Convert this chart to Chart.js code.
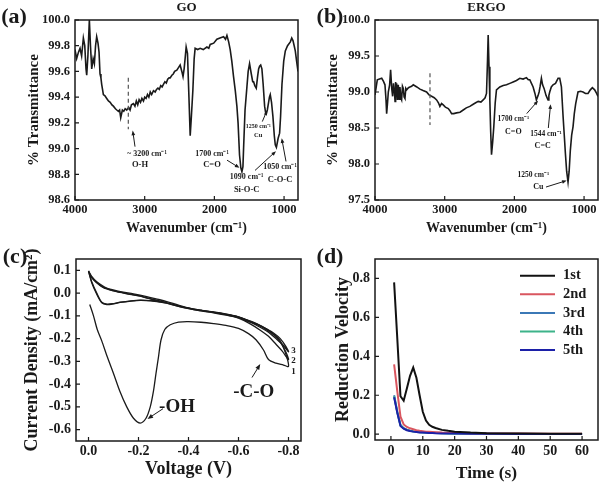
<!DOCTYPE html>
<html>
<head>
<meta charset="utf-8">
<script src="https://cdn.jsdelivr.net/npm/chart.js@4.4.0/dist/chart.umd.min.js"></script>
<style>
  html, body { margin: 0; padding: 0; background: #fff; }
  #wrap { position: relative; width: 602px; height: 484px; overflow: hidden; }
  #wrap canvas { position: absolute; }
</style>
</head>
<body>
<div id="wrap">
  <canvas id="chartA" width="301" height="242" style="left:0;top:0"></canvas>
  <canvas id="chartB" width="301" height="242" style="left:301px;top:0"></canvas>
  <canvas id="chartC" width="304" height="242" style="left:0;top:242px"></canvas>
  <canvas id="chartD" width="301" height="242" style="left:301px;top:242px"></canvas>
</div>
<script>
// (a) GO spectrum
const goWave = [
  4000, 3976, 3950, 3928, 3905, 3880, 3860, 3842, 3832, 3815,
  3794, 3778, 3760, 3740, 3722, 3705, 3689, 3670, 3655, 3641,
  3628, 3617, 3605, 3593, 3570, 3545, 3520, 3495, 3470, 3449,
  3420, 3400, 3377, 3360, 3344, 3320, 3300, 3280, 3258, 3230,
  3210, 3190, 3162, 3140, 3120, 3100, 3080, 3060, 3040, 3018,
  3000, 2980, 2960, 2940, 2920, 2900, 2874, 2850, 2830, 2810,
  2790, 2770, 2750, 2731, 2710, 2690, 2670, 2650, 2635, 2610,
  2590, 2570, 2539, 2515, 2491, 2467, 2450, 2434, 2420, 2405,
  2386, 2365, 2347, 2330, 2309, 2290, 2276, 2240, 2204, 2160,
  2108, 2080, 2060, 2010, 1964, 1920, 1868, 1840, 1820, 1795,
  1773, 1750, 1725, 1700, 1677, 1660, 1639, 1620, 1605, 1590,
  1581, 1560, 1533, 1515, 1495, 1470, 1450, 1437, 1420, 1399,
  1380, 1365, 1351, 1335, 1318, 1300, 1279, 1265, 1255, 1240,
  1222, 1210, 1198, 1180, 1160, 1140, 1126, 1110, 1102, 1085,
  1064, 1050, 1030, 1005, 982, 950, 910, 890, 872, 855,
  839, 820, 800
];
const goTrans = [
  99.77, 99.70, 99.75, 99.78, 99.72, 99.86, 99.80, 99.62, 99.57, 99.72,
  100.0, 99.80, 99.62, 99.70, 99.66, 99.80, 99.87, 99.82, 99.75, 99.58,
  99.55, 99.50, 99.46, 99.42, 99.41, 99.39, 99.37, 99.36, 99.34, 99.33,
  99.31, 99.30, 99.29, 99.30, 99.24, 99.30, 99.29, 99.31, 99.30, 99.32,
  99.30, 99.34, 99.35, 99.33, 99.37, 99.34, 99.38, 99.36, 99.39, 99.37,
  99.40, 99.39, 99.42, 99.40, 99.44, 99.42, 99.45, 99.44, 99.46, 99.47,
  99.46, 99.49, 99.48, 99.50, 99.52, 99.51, 99.54, 99.55, 99.55, 99.57,
  99.58, 99.60, 99.61, 99.63, 99.65, 99.60, 99.56, 99.62, 99.70, 99.79,
  99.74, 99.40, 99.10, 99.25, 99.45, 99.70, 99.78, 99.77, 99.78, 99.77,
  99.79, 99.78, 99.81, 99.82, 99.85, 99.86, 99.87, 99.85, 99.88, 99.83,
  99.77, 99.68, 99.56, 99.45, 99.33, 99.20, 98.95, 98.85, 98.82, 98.86,
  99.00, 99.30, 99.48, 99.60, 99.66, 99.58, 99.52, 99.52, 99.49, 99.47,
  99.56, 99.62, 99.64, 99.65, 99.62, 99.50, 99.33, 99.28, 99.27, 99.30,
  99.36, 99.40, 99.42, 99.36, 99.25, 99.10, 99.03, 99.01, 99.01, 99.08,
  99.12, 99.25, 99.50, 99.68, 99.76, 99.80, 99.83, 99.86, 99.84, 99.80,
  99.76, 99.68, 99.60
];

// (b) ERGO spectrum
const ergoWave = [
  4000, 3967, 3935, 3904, 3880, 3857, 3842, 3833, 3820, 3809,
  3790, 3776, 3760, 3747, 3735, 3723, 3712, 3704, 3697, 3690,
  3678, 3666, 3654, 3642, 3630, 3618, 3606, 3594, 3582, 3570,
  3558, 3546, 3520, 3499, 3475, 3451, 3400, 3355, 3310, 3260,
  3225, 3188, 3150, 3116, 3090, 3069, 3045, 3021, 2990, 2949,
  2925, 2901, 2870, 2830, 2780, 2734, 2690, 2639, 2591, 2555,
  2519, 2480, 2448, 2420, 2400, 2385, 2376, 2364, 2352, 2340,
  2328, 2312, 2295, 2275, 2257, 2209, 2160, 2113, 2065, 2018,
  1970, 1922, 1875, 1827, 1800, 1779, 1755, 1731, 1705, 1684,
  1660, 1645, 1630, 1612, 1595, 1574, 1545, 1517, 1505, 1493,
  1470, 1445, 1410, 1373, 1349, 1325, 1301, 1284, 1268, 1250,
  1230, 1214, 1197, 1178, 1158, 1140, 1120, 1087, 1050, 1015,
  980, 943, 910, 881, 848, 820, 800
];
const ergoTrans = [
  98.96, 99.17, 99.18, 99.19, 99.15, 99.10, 98.89, 98.70, 98.85, 99.00,
  99.10, 99.31, 99.05, 98.94, 99.12, 99.02, 98.87, 99.14, 98.95, 99.12,
  98.89, 99.10, 98.90, 99.07, 98.92, 98.89, 99.08, 99.05, 98.93, 98.91,
  99.05, 99.03, 99.06, 99.07, 99.08, 99.10, 99.07, 99.04, 99.02, 99.00,
  98.96, 98.94, 98.92, 98.89, 98.85, 98.80, 98.84, 98.82, 98.79, 98.77,
  98.74, 98.70, 98.70, 98.71, 98.72, 98.75, 98.78, 98.80, 98.83, 98.85,
  98.87, 98.86, 98.89, 98.92, 98.98, 99.45, 99.79, 99.35, 98.89, 98.45,
  98.13, 98.30, 98.52, 98.85, 99.03, 99.07, 99.09, 99.10, 99.12, 99.14,
  99.16, 99.19, 99.18, 99.20, 99.17, 99.17, 99.12, 99.07, 98.98, 98.89,
  98.95, 99.00, 99.08, 99.19, 99.10, 99.05, 98.95, 98.89, 98.95, 99.00,
  99.07, 99.10, 99.12, 99.19, 99.19, 99.07, 98.66, 98.40, 98.15, 97.90,
  97.75, 97.90, 98.19, 98.40, 98.52, 98.70, 98.84, 99.00, 99.01, 99.00,
  98.98, 98.98, 99.03, 99.06, 99.03, 98.98, 98.94
];
const irTicksX = [4000, 3000, 2000, 1000];
const goTicksY = [98.6, 98.8, 99.0, 99.2, 99.4, 99.6, 99.8, 100.0];
const ergoTicksY = [97.5, 98.0, 98.5, 99.0, 99.5, 100.0];

// (c) cyclic voltammetry, cycle 1 has the -OH peak
const cv1Volt = [
  -0.005, -0.02, -0.035, -0.053, -0.075, -0.1, -0.125, -0.153, -0.18, -0.207,
  -0.23, -0.247, -0.26, -0.27, -0.28, -0.29, -0.305, -0.327, -0.36, -0.4,
  -0.45, -0.5, -0.55, -0.6, -0.64, -0.67, -0.7, -0.72, -0.75, -0.78, -0.8,
  -0.79, -0.767, -0.74, -0.713, -0.68, -0.647, -0.6, -0.55, -0.5, -0.45,
  -0.407, -0.36, -0.313, -0.27, -0.233, -0.18, -0.127, -0.073, -0.033, -0.012, 0
];
const cv1Curr = [
  -0.05, -0.1, -0.16, -0.21, -0.28, -0.353, -0.43, -0.5, -0.55, -0.571,
  -0.55, -0.5, -0.43, -0.353, -0.28, -0.206, -0.16, -0.139, -0.127, -0.125,
  -0.128, -0.134, -0.142, -0.155, -0.178, -0.205, -0.25, -0.292, -0.308, -0.316, -0.322,
  -0.27, -0.21, -0.18, -0.158, -0.138, -0.123, -0.104, -0.092, -0.083, -0.075,
  -0.067, -0.053, -0.037, -0.025, -0.015, -0.003, 0.007, 0.022, 0.05, 0.075, 0.097
];
const cvSweepVolt = [
  0, -0.013, -0.033, -0.053, -0.073, -0.1, -0.127, -0.17, -0.207, -0.25,
  -0.287, -0.33, -0.367, -0.407, -0.45, -0.5, -0.55, -0.6, -0.647, -0.69,
  -0.72, -0.75, -0.775, -0.8,
  -0.79, -0.767, -0.74, -0.713, -0.68, -0.647, -0.6, -0.55, -0.5, -0.45,
  -0.4, -0.35, -0.3, -0.25, -0.2, -0.15, -0.1, -0.06, -0.03, -0.01, 0
];
const cv2Curr = [
  0.097, 0.05, 0.0, -0.04, -0.048, -0.046, -0.04, -0.034, -0.031, -0.033,
  -0.038, -0.047, -0.058, -0.067, -0.076, -0.085, -0.095, -0.11, -0.135, -0.165,
  -0.19, -0.225, -0.255, -0.292,
  -0.26, -0.215, -0.183, -0.162, -0.141, -0.126, -0.106, -0.094, -0.085, -0.077,
  -0.068, -0.055, -0.04, -0.026, -0.012, -0.002, 0.01, 0.024, 0.048, 0.072, 0.097
];
const cv3Curr = [
  0.097, 0.045, -0.005, -0.042, -0.05, -0.047, -0.041, -0.035, -0.032, -0.034,
  -0.04, -0.049, -0.06, -0.069, -0.078, -0.087, -0.097, -0.108, -0.128, -0.152,
  -0.172, -0.2, -0.225, -0.258,
  -0.235, -0.2, -0.175, -0.158, -0.139, -0.124, -0.105, -0.093, -0.084, -0.076,
  -0.067, -0.054, -0.039, -0.025, -0.011, -0.001, 0.011, 0.025, 0.05, 0.074, 0.097
];
const cvTicksX = [0, -0.2, -0.4, -0.6, -0.8];
const cvTicksY = [0.1, 0, -0.1, -0.2, -0.3, -0.4, -0.5, -0.6];

// (d) reduction velocity per run
const timeS = [1, 2, 3, 4, 5, 6, 7, 8, 9, 10, 11, 12, 13, 14, 16, 18, 20, 25, 30, 40, 50, 60];
const vel1st = [0.78, 0.49, 0.195, 0.172, 0.235, 0.3, 0.342, 0.29, 0.2, 0.115, 0.07, 0.048, 0.038, 0.032, 0.022, 0.017, 0.013, 0.008, 0.005, 0.003, 0.002, 0.002];
const vel2nd = [0.358, 0.22, 0.09, 0.05, 0.037, 0.03, 0.025, 0.02, 0.017, 0.015, 0.013, 0.012, 0.011, 0.01, 0.008, 0.007, 0.006, 0.005, 0.004, 0.003, 0.002, 0.002];
const vel3rd = [0.2, 0.115, 0.047, 0.031, 0.023, 0.018, 0.015, 0.013, 0.011, 0.01, 0.009, 0.008, 0.007, 0.007, 0.006, 0.005, 0.004, 0.003, 0.002, 0.002, 0.001, 0.001];
const vel4th = [0.195, 0.112, 0.045, 0.03, 0.022, 0.017, 0.014, 0.012, 0.01, 0.009, 0.008, 0.007, 0.006, 0.006, 0.005, 0.004, 0.004, 0.003, 0.002, 0.001, 0.001, 0.001];
const vel5th = [0.19, 0.11, 0.042, 0.028, 0.02, 0.016, 0.013, 0.011, 0.009, 0.008, 0.007, 0.006, 0.006, 0.005, 0.004, 0.004, 0.003, 0.002, 0.002, 0.001, 0.001, 0.001];
const runLabels = ['1st', '2nd', '3rd', '4th', '5th'];
const runColors = ['#111111', '#d9565f', '#3b78b6', '#3db38a', '#1c20a8'];
const runOrder = [0, 2, 4, 3, 1];
const velTicksX = [0, 10, 20, 30, 40, 50, 60];
const velTicksY = [0, 0.2, 0.4, 0.6, 0.8];

const FONT = '"Liberation Serif", "Times New Roman", serif';
const INK = '#1a1a1a';

function pts(xs, ys) {
    return xs.map((v, i) => ({x: v, y: ys[i]}));
}

function arrow(ctx, x1, y1, x2, y2, head) {
    const ang = Math.atan2(y2 - y1, x2 - x1);
    ctx.beginPath();
    ctx.moveTo(x1, y1);
    ctx.lineTo(x2 - Math.cos(ang) * head * 0.7, y2 - Math.sin(ang) * head * 0.7);
    ctx.stroke();
    ctx.beginPath();
    ctx.moveTo(x2, y2);
    ctx.lineTo(x2 - head * Math.cos(ang - 0.38), y2 - head * Math.sin(ang - 0.38));
    ctx.lineTo(x2 - head * Math.cos(ang + 0.38), y2 - head * Math.sin(ang + 0.38));
    ctx.closePath();
    ctx.fill();
}

// frame, inward ticks, notes, arrows, panel letters, legend
const decorPlugin = {
    id: 'decor',
    afterDraw(chart, args, o) {
        const {ctx, chartArea: a} = chart;
        const sx = chart.scales.x, sy = chart.scales.y;
        const px = v => sx.getPixelForValue(v);
        const py = v => sy.getPixelForValue(v);
        ctx.save();
        ctx.strokeStyle = INK;
        ctx.fillStyle = INK;

        ctx.lineWidth = 1.2;
        ctx.beginPath();
        sx.ticks.forEach(t => { const x = px(t.value); ctx.moveTo(x, a.bottom); ctx.lineTo(x, a.bottom - 4); });
        sy.ticks.forEach(t => { const y = py(t.value); ctx.moveTo(a.left, y); ctx.lineTo(a.left + 4, y); });
        ctx.stroke();

        ctx.lineWidth = 1.5;
        ctx.strokeRect(a.left, a.top, a.right - a.left, a.bottom - a.top);

        (o.dashes || []).forEach(d => {
            ctx.save();
            ctx.strokeStyle = '#555';
            ctx.lineWidth = 1.2;
            ctx.setLineDash([4, 3]);
            ctx.beginPath();
            ctx.moveTo(px(d.x), py(d.y1));
            ctx.lineTo(px(d.x), py(d.y2));
            ctx.stroke();
            ctx.restore();
        });

        ctx.lineWidth = 1;
        (o.arrows || []).forEach(r => arrow(ctx, px(r.x1), py(r.y1), px(r.x2), py(r.y2), r.head || 5));

        ctx.textAlign = 'center';
        ctx.textBaseline = 'middle';
        (o.notes || []).forEach(n => {
            ctx.font = 'bold ' + n.size + 'px ' + FONT;
            ctx.fillText(n.text, px(n.x), py(n.y));
        });

        if (o.letter) {
            ctx.font = 'bold ' + o.letter.size + 'px ' + FONT;
            ctx.fillText(o.letter.text, o.letter.x, o.letter.y);
        }
        if (o.heading) {
            ctx.font = 'bold ' + o.heading.size + 'px ' + FONT;
            ctx.fillText(o.heading.text, (a.left + a.right) / 2, o.heading.y);
        }

        if (o.legend) {
            const L = o.legend;
            ctx.textAlign = 'left';
            ctx.font = 'bold ' + L.size + 'px ' + FONT;
            chart.data.datasets.forEach((ds, i) => {
                const y = L.y + i * L.dy;
                ctx.strokeStyle = ds.borderColor;
                ctx.lineWidth = 2;
                ctx.beginPath();
                ctx.moveTo(L.x1, y);
                ctx.lineTo(L.x2, y);
                ctx.stroke();
                ctx.fillStyle = INK;
                ctx.fillText(ds.label, L.textX, y);
            });
        }
        ctx.restore();
    }
};

function makeChart(id, datasets, ax, decor) {
    return new Chart(document.getElementById(id), {
        type: 'scatter',
        data: {datasets: datasets},
        options: {
            responsive: false,
            animation: false,
            layout: {padding: {left: 0, top: ax.top, right: ax.right, bottom: 0}},
            elements: {point: {radius: 0}},
            plugins: {legend: {display: false}, tooltip: {enabled: false}, decor: decor},
            scales: {
                x: {
                    type: 'linear',
                    reverse: ax.xReverse,
                    min: ax.xMin,
                    max: ax.xMax,
                    afterBuildTicks: s => { s.ticks = ax.xTicks.map(v => ({value: v})); },
                    afterFit: s => { s.height = ax.xHeight; },
                    grid: {display: false, drawTicks: false},
                    border: {display: false},
                    ticks: {
                        padding: ax.xPad, maxRotation: 0, autoSkip: false, color: INK,
                        font: {family: FONT, size: ax.tickSize, weight: 'bold'},
                        callback: ax.xFmt
                    },
                    title: {
                        display: true, text: ax.xTitle, color: INK,
                        font: {family: FONT, size: ax.xTitleSize, weight: 'bold', lineHeight: 1.2},
                        padding: {top: 0, bottom: ax.xTitlePad}
                    }
                },
                y: {
                    type: 'linear',
                    min: ax.yMin,
                    max: ax.yMax,
                    afterBuildTicks: s => { s.ticks = ax.yTicks.map(v => ({value: v})); },
                    afterFit: s => { s.width = ax.yWidth; },
                    grid: {display: false, drawTicks: false},
                    border: {display: false},
                    ticks: {
                        padding: ax.yPad, autoSkip: false, color: INK,
                        font: {family: FONT, size: ax.tickSize, weight: 'bold'},
                        callback: ax.yFmt
                    },
                    title: {
                        display: true, text: ax.yTitle, color: INK,
                        font: {family: FONT, size: ax.yTitleSize, weight: 'bold', lineHeight: 1.2},
                        padding: {top: ax.yTitlePad, bottom: 0}
                    }
                }
            }
        },
        plugins: [decorPlugin]
    });
}

const plain = v => String(v);
const oneDec = v => Number(v).toFixed(1);

function lineSet(label, data, color, width, tension) {
    return {label: label, data: data, showLine: true, borderColor: color, backgroundColor: color,
            borderWidth: width, tension: tension, pointRadius: 0};
}

const irAxes = {
    top: 20, yWidth: 75, xHeight: 42, xReverse: true, xMin: 800, xMax: 4000,
    xTicks: irTicksX, xFmt: plain, yFmt: oneDec, tickSize: 12.5, xTitleSize: 14, yTitleSize: 15,
    xPad: 2, yPad: 5, xTitlePad: 5,
    xTitle: 'Wavenumber (cm⁻¹)', yTitle: '% Transmittance'
};

makeChart('chartA', [lineSet('GO', pts(goWave, goTrans), INK, 1.6, 0)],
    Object.assign({}, irAxes, {right: 3, yMin: 98.6, yMax: 100.0, yTicks: goTicksY, yTitlePad: 25}),
    {
        letter: {text: '(a)', x: 14, y: 17, size: 22},
        heading: {text: 'GO', y: 8, size: 13},
        dashes: [{x: 3235, y1: 99.55, y2: 99.15}],
        arrows: [
            {x1: 3139, y1: 99.015, x2: 3172, y2: 99.14},
            {x1: 1819, y1: 98.91, x2: 1640, y2: 98.85},
            {x1: 1417, y1: 98.83, x2: 1116, y2: 98.98},
            {x1: 972, y1: 98.90, x2: 1034, y2: 99.08},
            {x1: 1312, y1: 99.21, x2: 1250, y2: 99.29, head: 4}
        ],
        notes: [
            {x: 2967, y: 98.96, text: '~ 3200 cm⁻¹', size: 8},
            {x: 3067, y: 98.87, text: 'O-H', size: 8.5},
            {x: 2034, y: 98.96, text: '1700 cm⁻¹', size: 8},
            {x: 2034, y: 98.87, text: 'C=O', size: 8.5},
            {x: 1537, y: 98.78, text: '1090 cm⁻¹', size: 8},
            {x: 1537, y: 98.68, text: 'Si-O-C', size: 8.5},
            {x: 1058, y: 98.86, text: '1050 cm⁻¹', size: 8},
            {x: 1058, y: 98.76, text: 'C-O-C', size: 8.5},
            {x: 1370, y: 99.17, text: '1250 cm⁻¹', size: 6},
            {x: 1370, y: 99.10, text: 'Cu', size: 6.5}
        ]
    });

makeChart('chartB', [lineSet('ERGO', pts(ergoWave, ergoTrans), INK, 1.6, 0)],
    Object.assign({}, irAxes, {right: 4, yWidth: 74, yMin: 97.5, yMax: 100.0, yTicks: ergoTicksY, yTitlePad: 23}),
    {
        letter: {text: '(b)', x: 29, y: 17, size: 22},
        heading: {text: 'ERGO', y: 8, size: 13},
        dashes: [{x: 3211, y1: 99.26, y2: 98.54}],
        arrows: [
            {x1: 1823, y1: 98.70, x2: 1660, y2: 98.88},
            {x1: 1513, y1: 98.50, x2: 1480, y2: 98.83},
            {x1: 1546, y1: 97.68, x2: 1249, y2: 97.77}
        ],
        notes: [
            {x: 2015, y: 98.63, text: '1700 cm⁻¹', size: 7.5},
            {x: 2015, y: 98.44, text: 'C=O', size: 8},
            {x: 1546, y: 98.42, text: '1544 cm⁻¹', size: 7.5},
            {x: 1594, y: 98.25, text: 'C=C', size: 8},
            {x: 1728, y: 97.84, text: '1250 cm⁻¹', size: 7.5},
            {x: 1657, y: 97.68, text: 'Cu', size: 8}
        ]
    });

makeChart('chartC', [
        lineSet('1', pts(cv1Volt, cv1Curr), INK, 1.3, 0.3),
        lineSet('2', pts(cvSweepVolt, cv2Curr), INK, 1.3, 0.3),
        lineSet('3', pts(cvSweepVolt, cv3Curr), INK, 1.3, 0.3)
    ],
    {
        top: 17, right: 3, yWidth: 76, xHeight: 43, xReverse: true, xMin: -0.85, xMax: 0.05,
        xTicks: cvTicksX, xFmt: oneDec, yMin: -0.65, yMax: 0.15, yTicks: cvTicksY, yFmt: oneDec,
        tickSize: 14, xTitleSize: 18, yTitleSize: 18, xPad: 2, yPad: 5, xTitlePad: 4, yTitlePad: 22,
        xTitle: 'Voltage (V)', yTitle: 'Current Density (mA/cm²)'
    },
    {
        letter: {text: '(c)', x: 15, y: 15, size: 22},
        arrows: [
            {x1: -0.298, y1: -0.508, x2: -0.236, y2: -0.553, head: 6},
            {x1: -0.654, y1: -0.371, x2: -0.687, y2: -0.312, head: 6}
        ],
        notes: [
            {x: -0.354, y: -0.501, text: '-OH', size: 19},
            {x: -0.661, y: -0.435, text: '-C-O', size: 19},
            {x: -0.82, y: -0.254, text: '3', size: 9},
            {x: -0.82, y: -0.299, text: '2', size: 9},
            {x: -0.82, y: -0.347, text: '1', size: 9}
        ]
    });

const velSeries = [vel1st, vel2nd, vel3rd, vel4th, vel5th];
makeChart('chartD', velSeries.map((v, i) => Object.assign(
        lineSet(runLabels[i], pts(timeS, v), runColors[i], 2, 0), {order: runOrder[i]})),
    {
        top: 17, right: 4, yWidth: 74, xHeight: 44, xReverse: false, xMin: -5, xMax: 65,
        xTicks: velTicksX, xFmt: plain, yMin: -0.03, yMax: 0.9, yTicks: velTicksY, yFmt: oneDec,
        tickSize: 14, xTitleSize: 17.5, yTitleSize: 18, xPad: 3, yPad: 5, xTitlePad: 0, yTitlePad: 32,
        xTitle: 'Time (s)', yTitle: 'Reduction Velocity'
    },
    {
        letter: {text: '(d)', x: 29, y: 15, size: 22},
        legend: {x1: 219, x2: 254, textX: 262, y: 33.7, dy: 18.6, size: 14.5}
    });
</script>
</body>
</html>
